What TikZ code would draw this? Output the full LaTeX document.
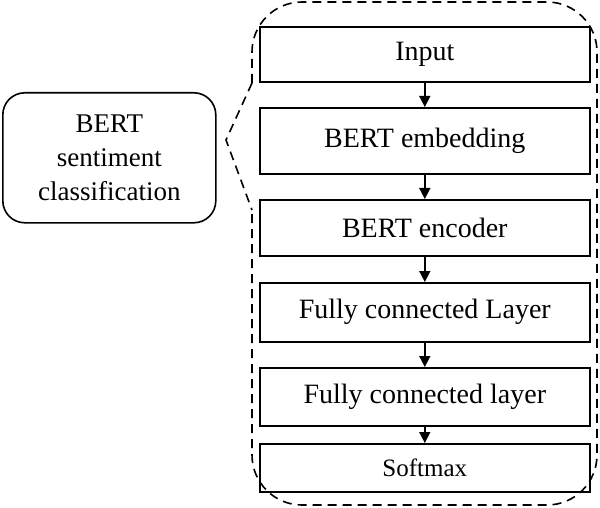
\documentclass[tikz,border=0pt]{standalone}
\usepackage{fontspec}
\setmainfont{Liberation Serif}
\usetikzlibrary{arrows.meta}
\begin{document}
\begin{tikzpicture}[x=1pt,y=-1pt,
  box/.style={draw,line width=1.6pt,minimum width=330pt,anchor=north west,inner sep=0pt,font=\fontsize{28}{32}\selectfont},
  arr/.style={-{Triangle[length=11pt,width=11pt]},line width=1.6pt},
  dsh/.style={line width=1.6pt,dash pattern=on 9pt off 6pt}]
\useasboundingbox (0,0) rectangle (600,508);
\draw[dsh,rounded corners=50pt] (252,83) -- (252,2) -- (597,2) -- (597,505) -- (252,505) -- (252,210);
\draw[dsh] (252,83) -- (226,140) -- (252,210);
\node[draw,line width=1.6pt,rounded corners=22pt,minimum width=213pt,minimum height=130pt,align=center,font=\fontsize{27}{34}\selectfont,anchor=north west] (lb) at (2,92) {BERT\\sentiment\\classification};
\node[box,minimum height=55pt] (n1) at (259,26) {Input};
\node[box,minimum height=66pt] (n2) at (259,107) {BERT embedding};
\node[box,minimum height=56pt] (n3) at (259,199) {BERT encoder};
\node[box,minimum height=59pt] (n4) at (259,282) {Fully connected Layer};
\node[box,minimum height=58pt] (n5) at (259,367) {Fully connected layer};
\node[box,minimum height=48pt,font=\fontsize{25}{30}\selectfont] (n6) at (259,443) {Softmax};
\draw[arr] (n1) -- (n2);
\draw[arr] (n2) -- (n3);
\draw[arr] (n3) -- (n4);
\draw[arr] (n4) -- (n5);
\draw[arr] (n5) -- (n6);
\end{tikzpicture}
\end{document}
